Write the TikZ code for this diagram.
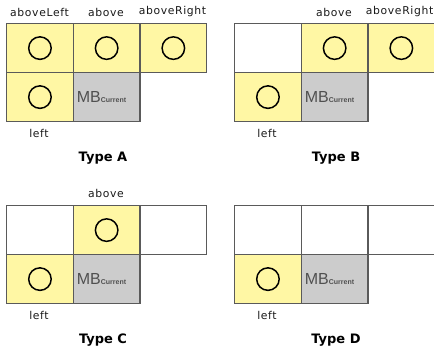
\documentclass[tikz,border=0pt]{standalone}
\usepackage{fontspec}
\setmainfont{DejaVu Sans}
\newfontfamily\mbfont{Liberation Sans}

\definecolor{cellyellow}{HTML}{FFF7A4}
\definecolor{cellgrey}{HTML}{CCCCCC}
\definecolor{cellline}{HTML}{5A5A5A}
\definecolor{mbtext}{HTML}{505050}

\tikzset{
  cell/.style={draw=cellline, line width=1.2pt, minimum width=66.7pt,
    minimum height=49pt, inner sep=0pt, anchor=north west},
  ycell/.style={cell, fill=cellyellow},
  wcell/.style={cell, fill=white},
  gcell/.style={cell, fill=cellgrey},
  ring/.style={circle, draw=black, line width=1.5pt, minimum size=22.5pt, inner sep=0pt},
  nbrlabel/.style={font=\fontsize{10.8}{12}\selectfont\addfontfeature{LetterSpace=6},
    text=black!90, inner sep=0pt},
  typelabel/.style={font=\bfseries\fontsize{13}{15}\selectfont, inner sep=0pt},
  mblabel/.style={anchor=west, inner sep=0pt, text=mbtext},
}

% One neighbourhood panel: name, x, y, styles of the above-left, above
% and above-right cells; the left cell is yellow, the current MB grey.
\newcommand\mbpanel[6]{%
  \node[#4] (#1al) at (#2,#3) {};
  \node[#5] (#1a)  at (#2+66.7,#3) {};
  \node[#6] (#1ar) at (#2+133.4,#3) {};
  \node[ycell] (#1l) at (#2,#3+49) {};
  \node[gcell] (#1c) at (#2+66.7,#3+49) {};
  \node[ring] (#1lr) at (#1l.center) {};
  \node[mblabel] (#1mb) at ([xshift=4pt]#1c.west)
    {\mbfont\fontsize{16}{16}\selectfont MB{\bfseries\fontsize{7}{7}\selectfont Current}};
}

\begin{document}
\begin{tikzpicture}[x=1pt, y=-1pt]
  \useasboundingbox (0,0) rectangle (434,353);

  % Type A
  \mbpanel{A}{6}{23}{ycell}{ycell}{ycell}
  \node[ring] (Aalr) at (Aal.center) {};
  \node[ring] (Aar1) at (Aa.center) {};
  \node[ring] (Aarr) at (Aar.center) {};
  \node[nbrlabel] (Atl) at (39.5,12) {aboveLeft};
  \node[nbrlabel] (Atm) at (106,12) {above};
  \node[nbrlabel] (Atr) at (172.5,12) {aboveRight};
  \node[nbrlabel] (Abl) at (39,133) {left};
  \node[typelabel] (Atype) at (103,158) {Type A};

  % Type B
  \mbpanel{B}{234}{23}{wcell}{ycell}{ycell}
  \node[ring] (Bar1) at (Ba.center) {};
  \node[ring] (Barr) at (Bar.center) {};
  \node[nbrlabel] (Btm) at (334,12) {above};
  \node[nbrlabel, anchor=east] (Btr) at (433.5,12) {aboveRight};
  \node[nbrlabel] (Bbl) at (267,133) {left};
  \node[typelabel] (Btype) at (336,158) {Type B};

  % Type C
  \mbpanel{C}{6}{205}{wcell}{ycell}{wcell}
  \node[ring] (Car1) at (Ca.center) {};
  \node[nbrlabel] (Ctm) at (106,193) {above};
  \node[nbrlabel] (Cbl) at (39,315) {left};
  \node[typelabel] (Ctype) at (103,340) {Type C};

  % Type D
  \mbpanel{D}{234}{205}{wcell}{wcell}{wcell}
  \node[nbrlabel] (Dbl) at (267,315) {left};
  \node[typelabel] (Dtype) at (336,340) {Type D};
\end{tikzpicture}
\end{document}
